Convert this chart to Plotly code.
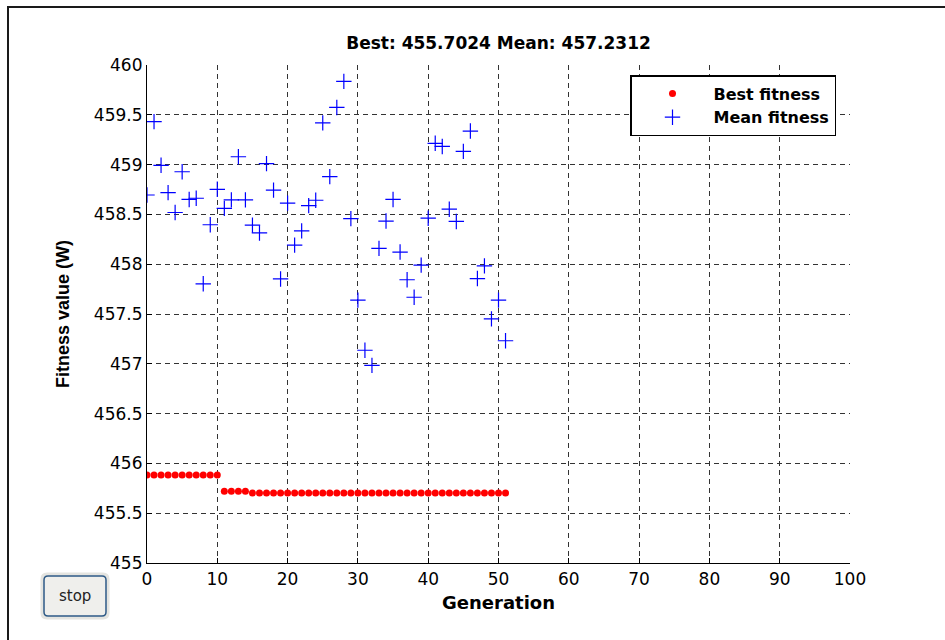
import plotly.graph_objects as go

# ---------------- data ----------------
generations = [0, 1, 2, 3, 4, 5, 6, 7, 8, 9, 10, 11, 12, 13, 14, 15, 16, 17, 18, 19,
               20, 21, 22, 23, 24, 25, 26, 27, 28, 29, 30, 31, 32, 33, 34, 35, 36, 37, 38, 39,
               40, 41, 42, 43, 44, 45, 46, 47, 48, 49, 50, 51]

best_fitness = [455.883, 455.883, 455.883, 455.883, 455.883, 455.883, 455.883, 455.883,
                455.883, 455.883, 455.883, 455.720, 455.720, 455.720, 455.720, 455.7024,
                455.7024, 455.7024, 455.7024, 455.7024, 455.7024, 455.7024, 455.7024, 455.7024,
                455.7024, 455.7024, 455.7024, 455.7024, 455.7024, 455.7024, 455.7024, 455.7024,
                455.7024, 455.7024, 455.7024, 455.7024, 455.7024, 455.7024, 455.7024, 455.7024,
                455.7024, 455.7024, 455.7024, 455.7024, 455.7024, 455.7024, 455.7024, 455.7024,
                455.7024, 455.7024, 455.7024, 455.7024]

mean_fitness = [458.695, 459.431, 458.993, 458.719, 458.519, 458.928, 458.650, 458.662,
                457.803, 458.396, 458.752, 458.560, 458.646, 459.079, 458.646, 458.392,
                458.314, 459.010, 458.744, 457.852, 458.613, 458.192, 458.335, 458.588,
                458.642, 459.419, 458.879, 459.574, 459.836, 458.458, 457.639, 457.136,
                456.984, 458.159, 458.433, 458.650, 458.122, 457.844, 457.668, 457.991,
                458.462, 459.214, 459.182, 458.552, 458.429, 459.133, 459.337, 457.856,
                457.983, 457.451, 457.639, 457.2312]

x_ticks = [0, 10, 20, 30, 40, 50, 60, 70, 80, 90, 100]
y_ticks = [455, 455.5, 456, 456.5, 457, 457.5, 458, 458.5, 459, 459.5, 460]
y_tick_labels = ["455", "455.5", "456", "456.5", "457", "457.5", "458", "458.5", "459", "459.5", "460"]

title_text = "Best: 455.7024 Mean: 457.2312"

# ---------------- layout geometry (pixels) ----------------
W, H = 945, 640
L, R, T, B = 147, 850, 65, 563   # plot area edges
PW, PH = R - L, B - T


def px(xp):
    return (xp - L) / PW


def py(yp):
    return (B - yp) / PH


def rounded_rect(x0, y0, x1, y1, r):
    rx, ry = r / PW, r / PH
    X0, X1 = px(x0), px(x1)
    Y0, Y1 = py(y1), py(y0)  # Y0 bottom, Y1 top
    return (f"M {X0 + rx},{Y0} L {X1 - rx},{Y0} Q {X1},{Y0} {X1},{Y0 + ry} "
            f"L {X1},{Y1 - ry} Q {X1},{Y1} {X1 - rx},{Y1} L {X0 + rx},{Y1} "
            f"Q {X0},{Y1} {X0},{Y1 - ry} L {X0},{Y0 + ry} Q {X0},{Y0} {X0 + rx},{Y0} Z")


FONT = "DejaVu Sans"

fig = go.Figure()
fig.add_trace(go.Scatter(
    x=generations, y=best_fitness, mode="markers", name="Best fitness",
    marker=dict(symbol="circle", size=7, color="#ff0000", line=dict(width=0)),
))
fig.add_trace(go.Scatter(
    x=generations, y=mean_fitness, mode="markers", name="Mean fitness",
    marker=dict(symbol="cross-thin", size=11, color="#0000ff",
                line=dict(width=1.2, color="#0000ff")),
))

grid_common = dict(
    showgrid=True, gridcolor="#333333", gridwidth=1, griddash="5px,4px",
    zeroline=False, showline=True, linecolor="#000000", linewidth=1.2, mirror=False,
    ticks="inside", ticklen=5, tickcolor="#000000", tickwidth=1,
    tickfont=dict(family=FONT, size=17, color="#000000"),
)

fig.update_layout(
    width=W, height=H,
    margin=dict(l=L, r=W - R, t=T, b=H - B, pad=0),
    paper_bgcolor="#ffffff", plot_bgcolor="#ffffff",
    showlegend=True,
    title=dict(text=title_text, x=0.5, xref="paper", xanchor="center",
               y=1 - 43 / H, yref="container", yanchor="middle",
               font=dict(family=FONT, size=17, color="#000000", weight="bold")),
    xaxis=dict(range=[0, 100], tickvals=x_ticks, **grid_common,
               title=dict(text="Generation", standoff=8,
                          font=dict(family=FONT, size=18, color="#000000", weight="bold"))),
    yaxis=dict(range=[455, 460], tickvals=y_ticks, ticktext=y_tick_labels, **grid_common,
               title=dict(text="Fitness value (W)", standoff=19,
                          font=dict(family="Liberation Sans", size=18, color="#000000", weight="bold"))),
    legend=dict(x=px(630), y=py(75), xanchor="left", yanchor="top",
                bgcolor="#ffffff", bordercolor="#000000", borderwidth=1.5,
                font=dict(family=FONT, size=16, color="#000000", weight="bold"),
                itemwidth=72, tracegroupgap=0),
    hovermode=False,
)

# outer figure frame
fig.add_shape(type="rect", xref="paper", yref="paper",
              x0=px(8), y0=py(700), x1=px(1000), y1=py(7),
              line=dict(color="#1a1a1a", width=2), fillcolor="rgba(0,0,0,0)", layer="above")

# stop button
fig.add_shape(type="path", xref="paper", yref="paper",
              path=rounded_rect(42, 574, 108, 618, 5),
              line=dict(color="#e4e4e0", width=3), fillcolor="#ededea", layer="above")
fig.add_shape(type="path", xref="paper", yref="paper",
              path=rounded_rect(44, 576, 106, 616, 4),
              line=dict(color="#2e5a86", width=1.5), fillcolor="#efefec", layer="above")
fig.add_annotation(text="stop", xref="paper", yref="paper", x=px(75), y=py(596),
                   xanchor="center", yanchor="middle", showarrow=False,
                   font=dict(family=FONT, size=15, color="#222222"))

fig.write_html("out.html")
